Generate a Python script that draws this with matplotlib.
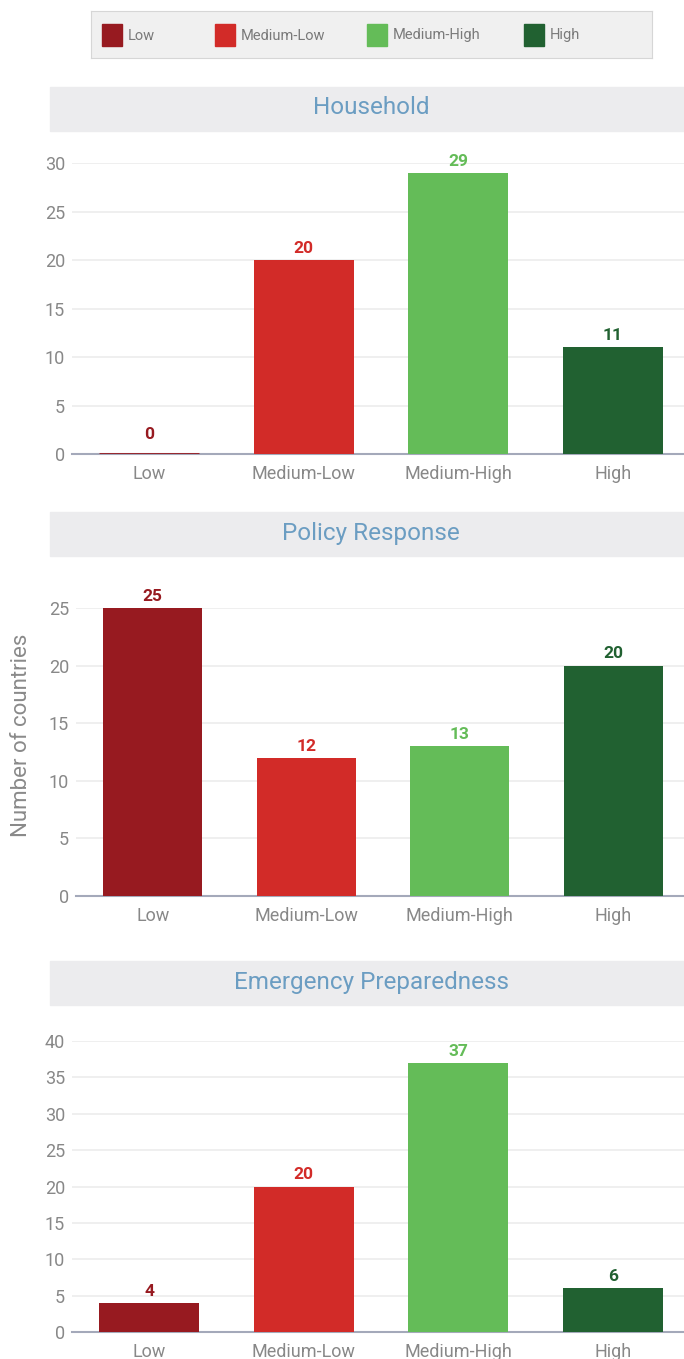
import matplotlib.pyplot as plt
from matplotlib.patches import Rectangle

plt.rcParams["font.family"] = ["Roboto", "DejaVu Sans"]

CATEGORIES = ["Low", "Medium-Low", "Medium-High", "High"]
COLORS = ["#971a20", "#d22b28", "#64bc58", "#216131"]

PANELS = ["Household", "Policy Response", "Emergency Preparedness"]
HOUSEHOLD = [0, 20, 29, 11]
POLICY = [25, 12, 13, 20]
EMERGENCY = [4, 20, 37, 6]
VALUES = [HOUSEHOLD, POLICY, EMERGENCY]
YMAX = [30, 25, 40]

W, H = 684, 1359
fig = plt.figure(figsize=(W / 100, H / 100), dpi=100)


def fx(px):
    return px / W


def fy(px):
    return 1 - px / H


# legend box
leg = fig.add_axes([fx(91), fy(58), fx(652 - 91), (58 - 11) / H])
leg.set_xlim(0, 652 - 91)
leg.set_ylim(47, 0)
leg.set_facecolor("#f0f0f0")
for s in leg.spines.values():
    s.set_color("#d6d6d6")
leg.set_xticks([])
leg.set_yticks([])
swatch_x = [11, 124, 276, 433]
for sx, cat, col in zip(swatch_x, CATEGORIES, COLORS):
    leg.add_patch(Rectangle((sx, 13), 20, 22, color=col))
    leg.text(sx + 26, 24.5, cat, va="center", ha="left", fontsize=10.5,
             color="#7a7a7a")

# panel geometry in pixels: (band top, axes left, axes top, axes bottom)
layout = [(87, 72, 163, 454), (512, 76, 608, 896), (961, 72, 1041, 1332)]

for title, vals, ymax, (band_top, left, top, bottom) in zip(PANELS, VALUES, YMAX, layout):
    fig.patches.append(Rectangle((fx(50), fy(band_top + 44)), 1 - fx(50), 44 / H,
                                 transform=fig.transFigure, color="#ececee", zorder=0))
    fig.text(fx(371), fy(band_top + 21), title, ha="center", va="center",
             fontsize=17.5, color="#6b9dc2")

    ax = fig.add_axes([fx(left), fy(bottom), fx(690 - left), (bottom - top) / H])
    bars = ax.bar(range(len(CATEGORIES)), vals, width=0.645, color=COLORS,
                  edgecolor=COLORS, linewidth=0, zorder=5)
    labels = ax.bar_label(bars, padding=3, fontsize=12.5, fontweight="bold")
    for bar, t, col, v in zip(bars, labels, COLORS, vals):
        t.set_color(col)
        t.set_clip_on(False)
        if v == 0:
            # keep empty categories visible as a thin bar
            bar.set_linewidth(2)
            t.xyann = (0, 9)

    ax.set_xlim(-0.5, 3.5)
    ax.set_ylim(0, ymax)
    ax.set_yticks(range(0, ymax + 1, 5))
    ax.set_xticks(range(len(CATEGORIES)))
    ax.set_xticklabels(CATEGORIES)
    ax.tick_params(axis="both", length=0, labelsize=13, labelcolor="#888888")
    ax.tick_params(axis="x", pad=8)
    ax.tick_params(axis="y", pad=5)
    ax.grid(axis="y", color="#ececec", linewidth=1.2, zorder=0)
    ax.set_axisbelow(True)
    for side in ["top", "right", "left"]:
        ax.spines[side].set_visible(False)
    ax.spines["bottom"].set_color("#a4a9ba")
    ax.spines["bottom"].set_linewidth(1.5)
    ax.spines["bottom"].set_zorder(4)

fig.text(fx(22), fy(735), "Number of countries", rotation=90, ha="center",
         va="center", fontsize=16, color="#8a8a8a")

fig.savefig("out.png", dpi=100)
